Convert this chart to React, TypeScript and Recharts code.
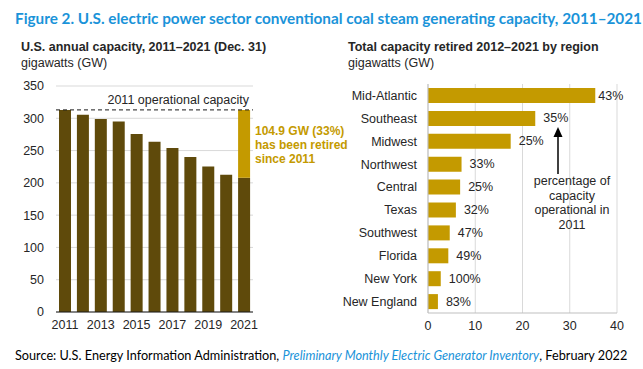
import React from "react";
import { BarChart, Bar, XAxis, YAxis, CartesianGrid, ReferenceLine, LabelList } from "recharts";

const YEARS = ["2011", "2012", "2013", "2014", "2015", "2016", "2017", "2018", "2019", "2020", "2021"];
const OPERATING_GW = [313, 305.4, 299, 295, 275.5, 263.7, 253.9, 240, 225.5, 212.6, 208.1];
const RETIRED_GW = [0, 0, 0, 0, 0, 0, 0, 0, 0, 0, 104.9];
const CAPACITY_2011 = 313;
const LEFT_TICKS = [0, 50, 100, 150, 200, 250, 300, 350];

const REGIONS = ["Mid-Atlantic", "Southeast", "Midwest", "Northwest", "Central", "Texas", "Southwest", "Florida", "New York", "New England"];
const RETIRED_BY_REGION = [35.4, 22.7, 17.5, 7.1, 6.8, 5.9, 4.6, 4.3, 2.7, 2.1];
const PCT_OF_2011 = ["43%", "35%", "25%", "33%", "25%", "32%", "47%", "49%", "100%", "83%"];
const RIGHT_TICKS = [0, 10, 20, 30, 40];

const DARK = "#5f4a0b";
const GOLD = "#c49a00";
const ARIAL = "'Liberation Sans', Arial, sans-serif";
const CALIBRI = "Lato, 'Open Sans', sans-serif";

const yearData = YEARS.map((y, i) => ({ year: y, operating: OPERATING_GW[i], retired: RETIRED_GW[i] }));
const regionData = REGIONS.map((r, i) => ({ region: r, gw: RETIRED_BY_REGION[i], pct: PCT_OF_2011[i] }));

const tick = { fontSize: 12.5, fill: "#262626", fontFamily: ARIAL };

function CapacityLabel(props: any) {
  const vb = props.viewBox || {};
  return (
    <text x={vb.x + vb.width - 4} y={vb.y - 6} textAnchor="end" fontSize={12.5} fill="#262626" fontFamily={ARIAL}>
      2011 operational capacity
    </text>
  );
}

function PctLabel(props: any) {
  const { x, y, width, height, index } = props;
  const gap = index === 0 ? 3 : 8;
  return (
    <text x={x + width + gap} y={y + height / 2} dominantBaseline="central" fontSize={12.5} fill="#262626" fontFamily={ARIAL}>
      {PCT_OF_2011[index]}
    </text>
  );
}

export default function App() {
  return (
    <div style={{ position: "absolute", left: 0, top: 0, width: 643, height: 369, background: "#fff", overflow: "hidden" }}>
      <div style={{ position: "absolute", left: 15, top: 7, fontFamily: CALIBRI, fontWeight: 700, fontSize: 15.3, color: "#1a93d9", whiteSpace: "nowrap", lineHeight: "22px" }}>
        Figure 2. U.S. electric power sector conventional coal steam generating capacity, 2011–2021
      </div>

      <div style={{ position: "absolute", left: 21, top: 39, fontFamily: ARIAL, fontSize: 12.5, color: "#262626", lineHeight: "16px", whiteSpace: "nowrap" }}>
        <div style={{ fontWeight: 700 }}>U.S. annual capacity, 2011–2021 (Dec. 31)</div>
        <div>gigawatts (GW)</div>
      </div>
      <div style={{ position: "absolute", left: 348, top: 39, fontFamily: ARIAL, fontSize: 12.5, color: "#262626", lineHeight: "16px", whiteSpace: "nowrap" }}>
        <div style={{ fontWeight: 700 }}>Total capacity retired 2012–2021 by region</div>
        <div>gigawatts (GW)</div>
      </div>

      <div style={{ position: "absolute", left: 0, top: 76 }}>
        <BarChart width={300} height={264} data={yearData} margin={{ top: 10, right: 47, bottom: 6, left: 16 }}>
          <CartesianGrid vertical={false} stroke="#d9d9d9" />
          <XAxis dataKey="year" interval={1} tickLine={false} axisLine={{ stroke: "#1a1a1a" }} tick={tick} height={22} />
          <YAxis domain={[0, 350]} ticks={LEFT_TICKS} tickLine={false} axisLine={false} tick={tick} width={40} tickMargin={6} />
          <Bar dataKey="operating" stackId="a" fill={DARK} barSize={12} isAnimationActive={false} />
          <Bar dataKey="retired" stackId="a" fill={GOLD} barSize={12} isAnimationActive={false} />
          <ReferenceLine y={CAPACITY_2011} stroke="#1a1a1a" strokeDasharray="4 3" label={<CapacityLabel />} />
        </BarChart>
      </div>

      <div style={{ position: "absolute", left: 255, top: 124, fontFamily: ARIAL, fontWeight: 700, fontSize: 12, color: GOLD, lineHeight: "14px", whiteSpace: "nowrap" }}>
        <div>104.9 GW (33%)</div>
        <div>has been retired</div>
        <div>since 2011</div>
      </div>

      <div style={{ position: "absolute", left: 320, top: 76 }}>
        <BarChart width={323} height={264} data={regionData} layout="vertical" margin={{ top: 8, right: 26, bottom: 5, left: 0 }}>
          <CartesianGrid horizontal={false} stroke="#d9d9d9" />
          <XAxis type="number" domain={[0, 40]} ticks={RIGHT_TICKS} tickLine={false} axisLine={{ stroke: "#bfbfbf" }} tick={tick} height={22} />
          <XAxis xAxisId="top" type="number" orientation="top" domain={[0, 40]} tick={false} tickLine={false} axisLine={{ stroke: "#bfbfbf" }} height={0} />
          <YAxis type="category" dataKey="region" tickLine={false} axisLine={{ stroke: "#bfbfbf" }} tick={tick} width={108} tickMargin={5} />
          <YAxis yAxisId="right" type="category" dataKey="region" orientation="right" tick={false} tickLine={false} axisLine={{ stroke: "#bfbfbf" }} width={0} />
          <Bar dataKey="gw" fill={GOLD} barSize={15} isAnimationActive={false}>
            <LabelList dataKey="pct" content={<PctLabel />} />
          </Bar>
        </BarChart>
      </div>

      <svg style={{ position: "absolute", left: 0, top: 0 }} width={643} height={369}>
        <line x1={558} y1={174} x2={558} y2={136} stroke="#000" strokeWidth={1.5} />
        <polygon points="558,127 553.5,137 562.5,137" fill="#000" />
      </svg>
      <div style={{ position: "absolute", left: 512, top: 174, width: 120, textAlign: "center", fontFamily: ARIAL, fontSize: 12.5, color: "#262626", lineHeight: "14.5px" }}>
        <div>percentage of</div>
        <div>capacity</div>
        <div>operational in</div>
        <div>2011</div>
      </div>

      <div style={{ position: "absolute", left: 15, top: 346, fontFamily: CALIBRI, fontSize: 12.7, color: "#000", whiteSpace: "nowrap", lineHeight: "18px" }}>
        Source: U.S. Energy Information Administration,{" "}
        <span style={{ fontStyle: "italic", color: "#1a93d9" }}>Preliminary Monthly Electric Generator Inventory</span>, February 2022
      </div>
    </div>
  );
}
